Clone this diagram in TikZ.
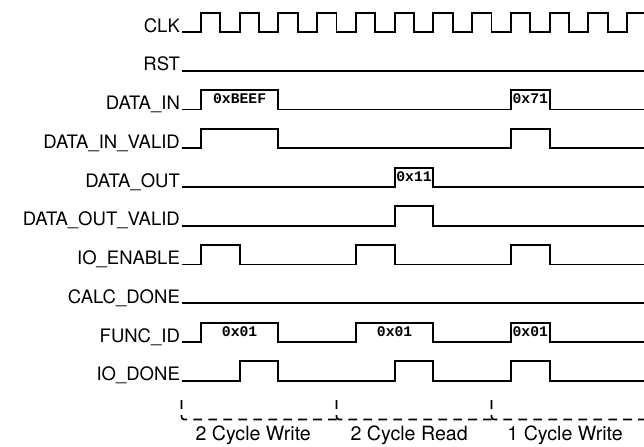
\documentclass[tikz,border=0pt]{standalone}
\usepackage{fontspec}
\setmainfont{TeX Gyre Heros}
\newfontfamily\busfont{Liberation Mono}
\usepackage{tikz}

\begin{document}
\begin{tikzpicture}[
    x=0.5cm, y=0.5cm,
    sig/.style={line width=1.4pt, line join=miter},
    signame/.style={anchor=base east, inner sep=1pt, font=\fontsize{13.6}{16}\selectfont},
    busval/.style={anchor=center, inner sep=0pt, font=\busfont\bfseries\fontsize{10.8}{12}\selectfont},
    phase/.style={line width=1.2pt, dash pattern=on 6.5pt off 4.5pt, rounded corners=2pt},
    phasetxt/.style={anchor=base, inner sep=0pt, font=\fontsize{14.4}{17}\selectfont}
]
\useasboundingbox (-9.368,1.652) rectangle (23.87,-21.37);
% signal names, one row every 2 units
\node[signame] (clk)    at (0,0)   {CLK};
\node[signame] (rst)    at (0,-2)  {RST};
\node[signame] (din)    at (0,-4)  {DATA\_IN};
\node[signame] (dinv)   at (0,-6)  {DATA\_IN\_VALID};
\node[signame] (dout)   at (0,-8)  {DATA\_OUT};
\node[signame] (doutv)  at (0,-10) {DATA\_OUT\_VALID};
\node[signame] (ioen)   at (0,-12) {IO\_ENABLE};
\node[signame] (calc)   at (0,-14) {CALC\_DONE};
\node[signame] (func)   at (0,-16) {FUNC\_ID};
\node[signame] (iodone) at (0,-18) {IO\_DONE};
% clock
\draw[sig] (0,0) \foreach \k in {1,...,12} { -- ++(1,0) -- ++(0,1) -- ++(1,0) -- ++(0,-1) };
% reset
\draw[sig] (0,-2) -- (24,-2);
% data in
\draw[sig] (0,-4) -- (1,-4) -- (1,-3) -- (5,-3) -- (5,-4) -- (17,-4) -- (17,-3) -- (19,-3) -- (19,-4) -- (24,-4);
\node[busval] (dinA) at (3,-3.45)  {0xBEEF};
\node[busval] (dinB) at (18,-3.45) {0x71};
\draw[sig] (0,-6) -- (1,-6) -- (1,-5) -- (5,-5) -- (5,-6) -- (17,-6) -- (17,-5) -- (19,-5) -- (19,-6) -- (24,-6);
% data out
\draw[sig] (0,-8) -- (11,-8) -- (11,-7) -- (13,-7) -- (13,-8) -- (24,-8);
\node[busval] (doutA) at (12,-7.45) {0x11};
\draw[sig] (0,-10) -- (11,-10) -- (11,-9) -- (13,-9) -- (13,-10) -- (24,-10);
% io enable
\draw[sig] (0,-12) -- (1,-12) -- (1,-11) -- (3,-11) -- (3,-12) -- (9,-12) -- (9,-11) -- (11,-11) -- (11,-12)
           -- (17,-12) -- (17,-11) -- (19,-11) -- (19,-12) -- (24,-12);
% calc done
\draw[sig] (0,-14) -- (24,-14);
% function id
\draw[sig] (0,-16) -- (1,-16) -- (1,-15) -- (5,-15) -- (5,-16) -- (9,-16) -- (9,-15) -- (13,-15) -- (13,-16)
           -- (17,-16) -- (17,-15) -- (19,-15) -- (19,-16) -- (24,-16);
\node[busval] (funcA) at (3,-15.45)  {0x01};
\node[busval] (funcB) at (11,-15.45) {0x01};
\node[busval] (funcC) at (18,-15.45) {0x01};
% io done
\draw[sig] (0,-18) -- (3,-18) -- (3,-17) -- (5,-17) -- (5,-18) -- (11,-18) -- (11,-17) -- (13,-17) -- (13,-18)
           -- (17,-18) -- (17,-17) -- (19,-17) -- (19,-18) -- (24,-18);
% phases
\draw[phase] (0,-19) |- (8,-20);
\draw[phase] (8,-19) |- (16,-20);
\draw[phase] (16,-19) |- (24,-20);
\node[phasetxt] (ph1) at (3.7,-21.1)  {2 Cycle Write};
\node[phasetxt] (ph2) at (11.75,-21.1) {2 Cycle Read};
\node[phasetxt] (ph3) at (19.8,-21.1) {1 Cycle Write};
\end{tikzpicture}
\end{document}
